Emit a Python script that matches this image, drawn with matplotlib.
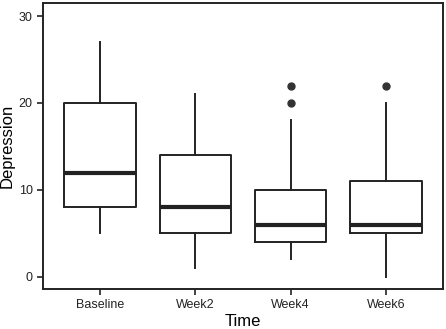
import matplotlib as mpl
mpl.use('Agg')
import matplotlib.pyplot as plt

plt.rcParams['font.family'] = ['Liberation Sans', 'DejaVu Sans']

# box statistics
groups = ['Baseline', 'Week2', 'Week4', 'Week6']
whislo = [5, 1, 2, 0]
q1 = [8, 5, 4, 5]
med = [12, 8, 6, 6]
q3 = [20, 14, 10, 11]
whishi = [27, 21, 18, 20]
fliers = [[], [], [20, 22], [22]]

stats = []
for i, g in enumerate(groups):
    stats.append(dict(label=g, whislo=whislo[i], q1=q1[i], med=med[i],
                      q3=q3[i], whishi=whishi[i], fliers=fliers[i]))

fig = plt.figure(figsize=(4.46, 3.29), dpi=100)
ax = fig.add_axes([43 / 446, 40 / 329, 400 / 446, 286 / 329])

ax.bxp(stats, widths=0.75, showcaps=False,
       boxprops=dict(color='#222222', linewidth=1.4),
       whiskerprops=dict(color='#222222', linewidth=1.4),
       medianprops=dict(color='#222222', linewidth=3.0),
       flierprops=dict(marker='o', markerfacecolor='#333333',
                       markeredgecolor='#333333', markersize=5))

ax.set_xlim(0.4, 4.6)
ax.set_ylim(-1.4, 31.5)
ax.set_yticks([0, 10, 20, 30])
ax.tick_params(labelsize=9, colors='#222222', length=4, width=1.2)
for s in ax.spines.values():
    s.set_linewidth(1.4)
    s.set_color('#222222')
ax.set_xlabel('Time', fontsize=12, labelpad=2)
ax.set_ylabel('Depression', fontsize=12, labelpad=3)

fig.savefig('out.png', dpi=100)
